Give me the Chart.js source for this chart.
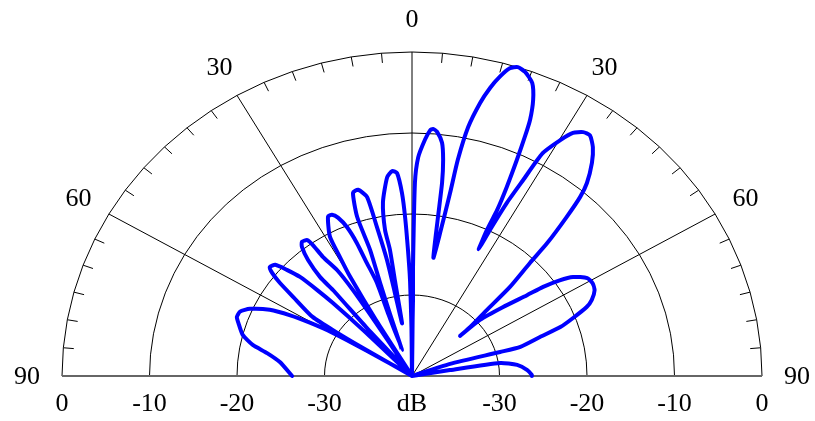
<!DOCTYPE html>
<html>
<head>
<meta charset="utf-8">
<script src="https://cdn.jsdelivr.net/npm/chart.js@4/dist/chart.umd.min.js"></script>
<style>
  body { margin: 0; background: #fff; }
  #wrap { width: 815px; height: 421px; }
</style>
</head>
<body>
<div id="wrap"><canvas id="c" width="815" height="421"></canvas></div>
<script>
// pattern: angle from broadside (deg), level (dB)
// prettier-ignore
const angleDeg = [
  -90, -83.5, -80.3, -78.1, -75.3, -71.7, -70.0, -68.0, -65.9, -63.3, -61.7, -60.6, -59.5, -58.9, -58.6,
  -58.3, -58.0, -57.3, -54.3, -52.7, -51.5, -50.4, -48.7, -47.5, -46.3, -45.6, -45.1, -44.6, -44.0,
  -41.0, -40.4, -40.7, -39.7, -38.3, -37.2, -35.5, -35.0, -34.7, -33.2, -32.5, -32.2, -31.8,
  -30.8, -30.0, -29.3, -28.6, -26.0, -24.7, -23.4, -22.0, -21.0, -20.3, -19.2, -19.5, -19.6,
  -18.2, -17.6, -17.1, -17.7, -16.6, -15.0, -13.1, -12.3, -11.3, -10.8, -9.9,
  -9.4, -9.2, -9.7, -8.8, -6.6, -5.1, -3.9, -2.9, -2.3, -1.7, -1.1, -0.6, 0,
  0.6, 0.7, 0.5, 0.8, 1.5, 2.9, 3.9, 4.5, 5.4, 6.8, 7.6, 8.2, 8.6, 9.5,
  10.3, 10.9, 11.1, 11.8, 13.0, 14.1, 15.2, 16.4, 17.6, 19.0, 20.8, 22.1, 23.1, 23.6, 24.2, 24.9, 25.4, 25.4, 26.0,
  26.3, 26.9, 27.7, 28.5, 30.2, 31.5, 33.0, 34.4, 36.2, 38.0, 40.0, 41.0, 42.0, 43.3, 44.0, 45.5, 46.4, 47.7, 48.0,
  48.3, 50.7, 52.8, 53.7, 55.0, 56.4, 58.9, 61.0, 63.1, 65.4, 66.9, 68.7, 70.4, 71.8, 73.8, 73.6, 71.0, 74.0,
  76.0, 80.4, 80.9, 83.5, 86.8, 89.5, 90,
]
// prettier-ignore
const levelDb = [
  -26.3, -24.8, -23.2, -21.4, -20.0, -19.1, -18.7, -18.8, -19.7, -21.8, -24.2, -26.6, -29.5, -33.9, -45,
  -33, -29.9, -26.5, -23.3, -21.0, -19.6, -18.9, -19.2, -20.6, -22.3, -24.8, -27.2, -32, -45,
  -32, -26.1, -23.9, -21.4, -19.7, -19.2, -19.4, -20.3, -22.1, -24.4, -27.4, -32, -45,
  -32, -25.9, -23.2, -20.4, -18.1, -18.1, -18.7, -20.2, -22.4, -25.1, -27.8, -32, -36.6,
  -32, -28, -23.7, -19.4, -16.4, -16.2, -17.3, -21.2, -25.4, -29.5, -33.4,
  -28, -24.2, -21.7, -18.3, -15.3, -14.6, -14.9, -17.4, -20.4, -24.4, -28.1, -34, -45,
  -33, -30.6, -26.6, -16.2, -13.0, -10.8, -9.6, -9.4, -9.7, -11.0, -13.1, -15.9, -20.1, -25.2,
  -22.1, -17.0, -12.8, -8.6, -5.4, -3.3, -1.7, -0.4, 0, -0.3, -1.3, -3.2, -5.6, -7.8, -10.8, -14.3, -17.3, -20.0, -22.6,
  -19.9, -16.0, -12.7, -8.7, -6.3, -4.8, -4.1, -4.0, -5.0, -6.6, -8.9, -10.7, -13.6, -17.5, -20.6, -24.3, -28.2, -31.0, -32.6,
  -29.6, -26.6, -23.5, -21.4, -19.4, -17.9, -16.6, -16.4, -16.6, -17.4, -18.3, -20.2, -22.0, -24.6, -27.1, -29.5, -35.4, -45,
  -45, -35.6, -29.8, -27.9, -26.8, -26.3, -26.3,
]

const dbMax = 0
const dbMin = -40
const ringDb = [0, -10, -20, -30]
const spokeDeg = [-60, -30, 0, 30, 60]
const angleLabels = [-90, -60, -30, 0, 30, 60, 90]
const radialLabels = ['0', '-10', '-20', '-30', 'dB', '-30', '-20', '-10', '0']

const rad = (d) => (d * Math.PI) / 180
const norm = (db) => Math.max(0, (db - dbMin) / (dbMax - dbMin))
const toXY = (deg, r) => ({ x: r * Math.sin(rad(deg)), y: r * Math.cos(rad(deg)) })

const points = angleDeg.map((a, i) => toXY(a, norm(levelDb[i])))

const polarGrid = {
  id: 'polarGrid',
  beforeDatasetsDraw(chart) {
    const { ctx, scales } = chart
    const px = (deg, r) => {
      const p = toXY(deg, r)
      return [scales.x.getPixelForValue(p.x), scales.y.getPixelForValue(p.y)]
    }
    ctx.save()
    ctx.strokeStyle = '#000'
    ctx.lineWidth = 1

    // rings, drawn as 5 degree polylines like the original
    ringDb.forEach((db) => {
      const r = norm(db)
      ctx.beginPath()
      for (let a = -90; a <= 90; a += 5) {
        const [x, y] = px(a, r)
        a === -90 ? ctx.moveTo(x, y) : ctx.lineTo(x, y)
      }
      ctx.stroke()
    })

    spokeDeg.forEach((a) => {
      ctx.beginPath()
      ctx.moveTo(...px(a, 0))
      ctx.lineTo(...px(a, 1))
      ctx.stroke()
    })

    for (let a = -85; a <= 85; a += 5) {
      if (a % 30 === 0) continue
      ctx.beginPath()
      ctx.moveTo(...px(a, 1))
      ctx.lineTo(...px(a, 0.97))
      ctx.stroke()
    }

    // baseline
    ctx.strokeStyle = '#666'
    ctx.lineWidth = 2
    ctx.beginPath()
    ctx.moveTo(...px(-90, 1))
    ctx.lineTo(...px(90, 1))
    ctx.stroke()

    ctx.fillStyle = '#000'
    ctx.font = '26px "Liberation Serif", "Times New Roman", serif'
    ctx.textAlign = 'center'
    ctx.textBaseline = 'middle'
    angleLabels.forEach((a) => {
      const [x, y] = px(a, 1.1)
      ctx.fillText(String(Math.abs(a)), x, y + 1)
    })
    const yb = scales.y.getPixelForValue(0) + 28
    radialLabels.forEach((t, i) => {
      const x = scales.x.getPixelForValue(-1 + i * 0.25)
      ctx.fillText(t, x, yb)
    })
    ctx.restore()
  },
}

new Chart(document.getElementById('c'), {
  type: 'scatter',
  data: {
    datasets: [
      {
        data: points,
        showLine: true,
        borderColor: '#0000ff',
        borderWidth: 4,
        pointRadius: 0,
        tension: 0.2,
        clip: 8,
        borderJoinStyle: 'round',
        borderCapStyle: 'round',
      },
    ],
  },
  options: {
    responsive: false,
    animation: false,
    layout: { padding: { left: 62, right: 53, top: 52, bottom: 45 } },
    scales: {
      x: { type: 'linear', min: -1, max: 1, display: false },
      y: { type: 'linear', min: 0, max: 1, display: false },
    },
    plugins: { legend: { display: false }, tooltip: { enabled: false } },
  },
  plugins: [polarGrid],
})
</script>
</body>
</html>
